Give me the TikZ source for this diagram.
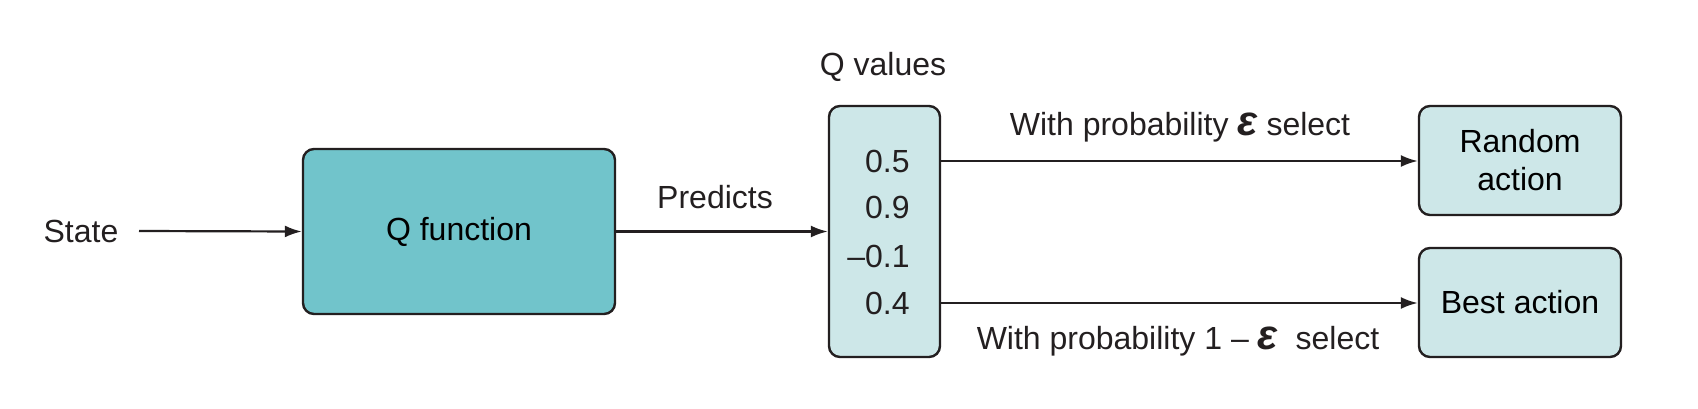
\documentclass[tikz,border=0pt]{standalone}
\usepackage{fontspec}
\setmainfont{Liberation Sans}
\usetikzlibrary{arrows.meta}
\definecolor{tealdark}{HTML}{71C4CB}
\definecolor{teallight}{HTML}{CDE7E8}
\definecolor{edge}{HTML}{231F20}
\tikzset{
  box/.style={draw=edge, line width=1.2pt, rounded corners=5.5pt, align=center, inner sep=0pt},
  lbl/.style={inner sep=0pt, text=edge},
  conn/.style={draw=edge, line width=1.1pt, -{Latex[length=8.5pt,width=6pt]}},
}
\newcommand{\eps}{{\fontsize{21}{21}\selectfont\bfseries\itshape ε}}
\begin{document}
\begin{tikzpicture}[x=0.5pt,y=-0.5pt, font=\fontsize{16}{19}\selectfont]
\useasboundingbox (0,0) rectangle (1698,408);
\node[lbl] (state) at (81,231) {State};
\node[box, fill=tealdark, minimum width=156pt, minimum height=82.5pt] (qf) at (459,231.5) {Q function};
\node[box, fill=teallight, minimum width=55.5pt, minimum height=125.5pt] (qv) at (884.5,231.5) {};
\node[lbl] (qvl) at (883,67) {Q values};
\node[lbl, anchor=east] (v1) at (910,161) {0.5};
\node[lbl, anchor=east] (v2) at (910,207) {0.9};
\node[lbl, anchor=east] (v3) at (910,256) {–0.1};
\node[lbl, anchor=east] (v4) at (910,303) {0.4};
\node[box, fill=teallight, minimum width=101pt, minimum height=54.5pt] (rnd) at (1520,160.5) {Random\\[0pt]action};
\node[box, fill=teallight, minimum width=101pt, minimum height=54.5pt] (best) at (1520,302.5) {Best action};
\node[lbl] (pred) at (715,197) {Predicts};
\node[lbl] (ptop) at (1180,127) {With probability \eps{} select};
\node[lbl] (pbot) at (1178,341) {With probability 1 – \eps{}\ \ select};
\coordinate (s0) at (139,231);
\draw[conn] (s0) -- (qf.west);
\draw[conn] (qf.east) -- (qv.west);
\draw[conn] (v1 -| qv.east) -- (v1 -| rnd.west);
\draw[conn] (v4 -| qv.east) -- (v4 -| best.west);
\end{tikzpicture}
\end{document}
